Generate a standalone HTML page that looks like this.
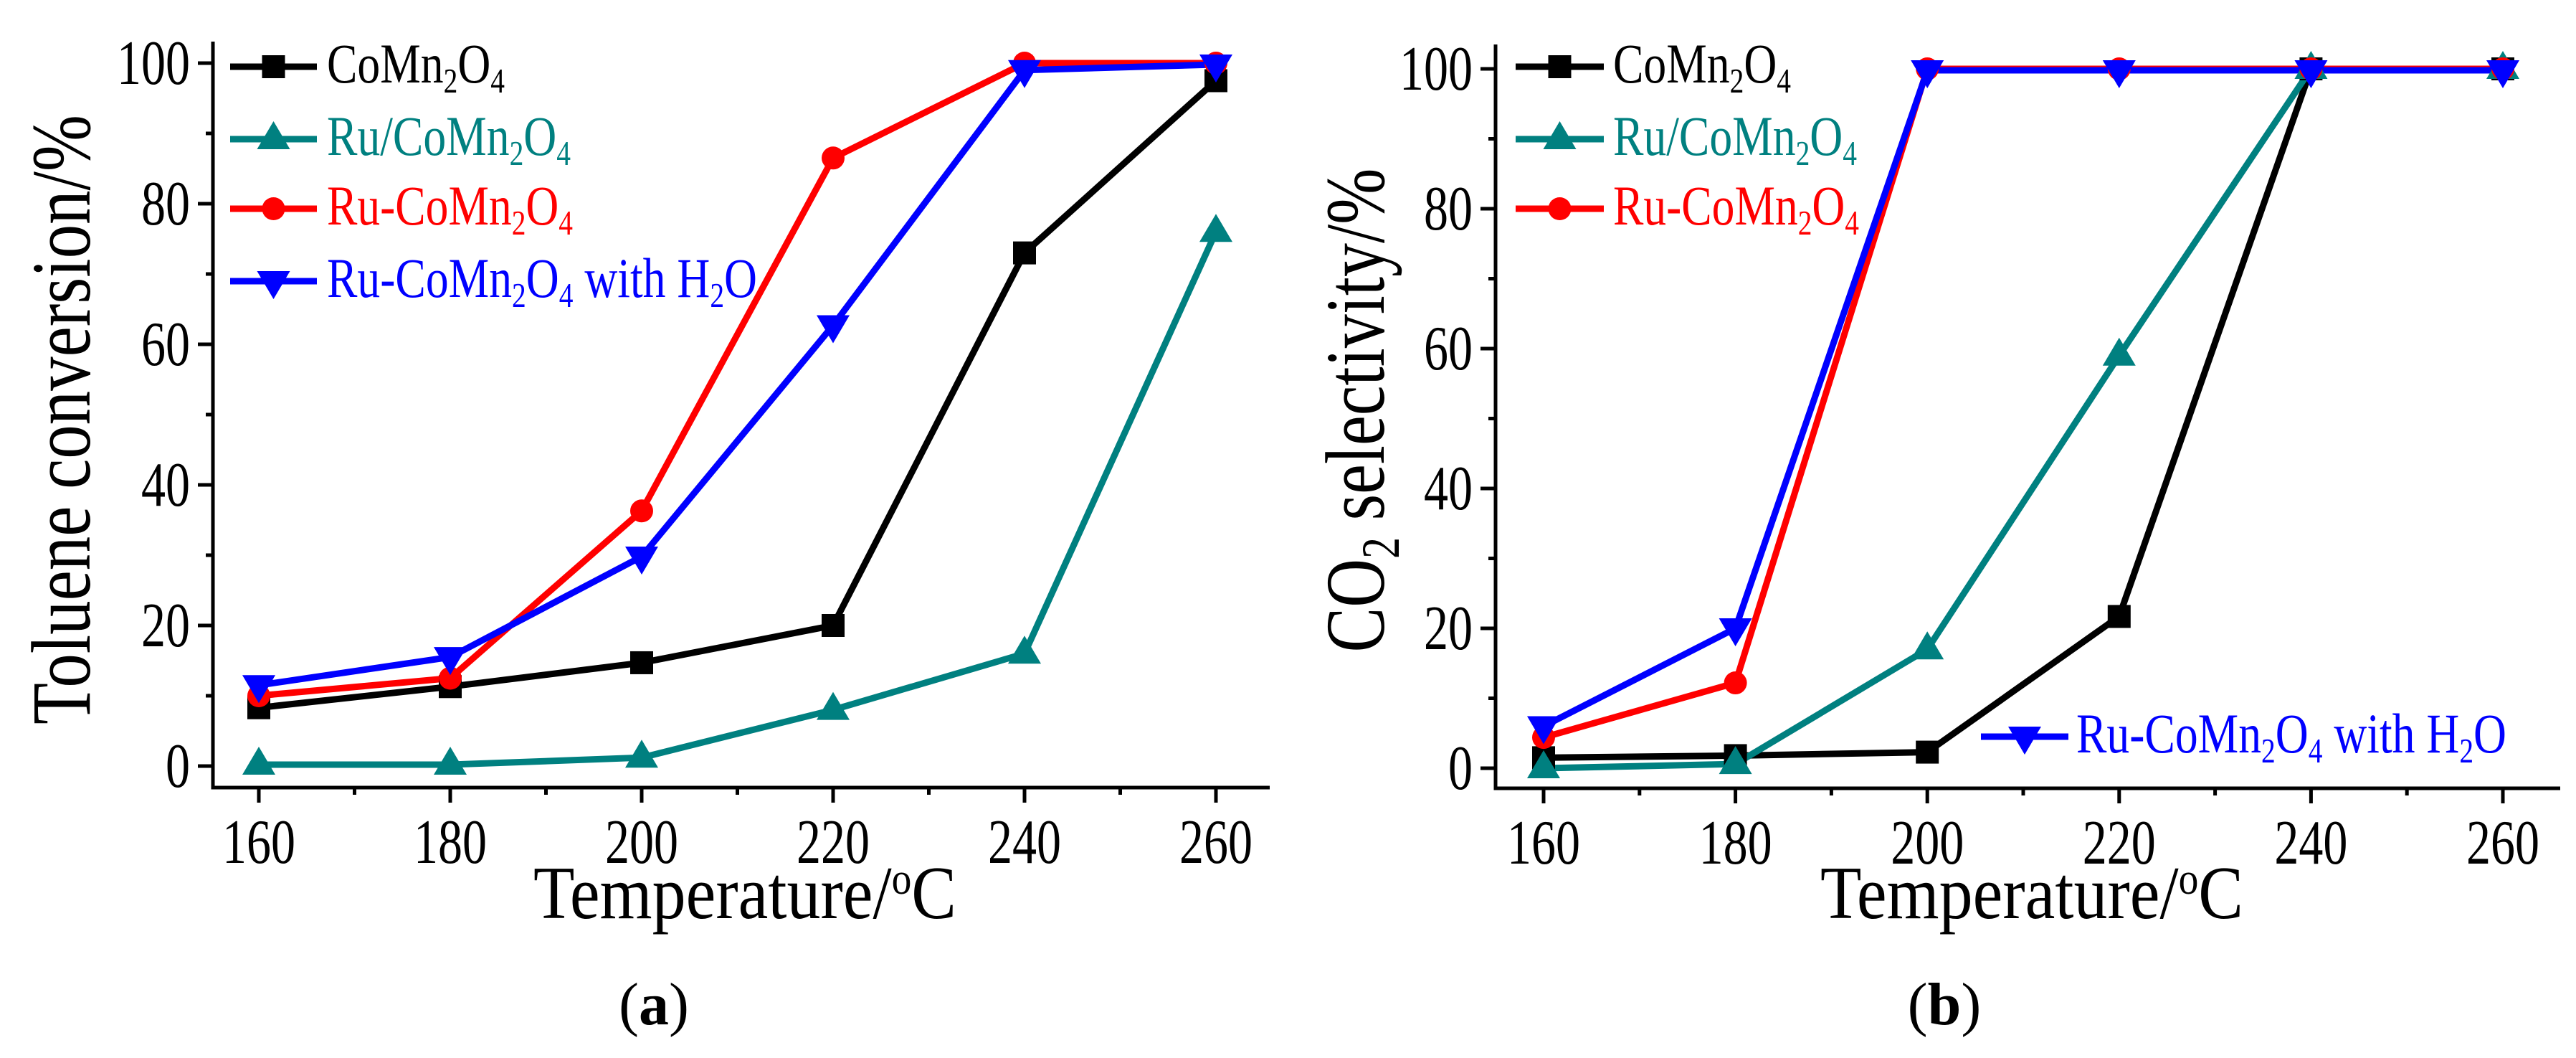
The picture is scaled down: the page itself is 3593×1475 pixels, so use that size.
<!DOCTYPE html>
<html><head><meta charset="utf-8"><style>
html,body{margin:0;padding:0;background:#fff;}
svg{display:block;font-family:"Liberation Serif",serif;}
</style></head><body>
<svg id="fig" width="3593" height="1475" viewBox="0 0 3593 1475" xmlns="http://www.w3.org/2000/svg"></svg>
<script>
const temps = [160, 180, 200, 220, 240, 260];
const xTicks = [160, 180, 200, 220, 240, 260];
const yTicks = [0, 20, 40, 60, 80, 100];
const seriesNames = ["CoMn2O4", "Ru/CoMn2O4", "Ru-CoMn2O4", "Ru-CoMn2O4 with H2O"];
const convCoMn = [8.3, 11.3, 14.7, 20, 73, 97.5];
const convRuOn = [0.2, 0.2, 1.2, 8, 16, 76];
const convRuIn = [10, 12.5, 36.3, 86.5, 100, 100];
const convH2O = [11.5, 15.5, 29.8, 62.7, 99, 99.8];
const selCoMn = [1.5, 1.8, 2.3, 21.7, 100, 100];
const selRuOn = [0, 0.6, 17, 59, 100, 100];
const selRuIn = [4.4, 12.2, 100, 100, 100, 100];
const selH2O = [6, 20, 99.8, 99.8, 99.8, 99.8];

const NS = "http://www.w3.org/2000/svg";
const svg = document.getElementById("fig");
function mk(tag, attrs, parent) {
  const e = document.createElementNS(NS, tag);
  for (const k in attrs) e.setAttribute(k, attrs[k]);
  (parent || svg).appendChild(e);
  return e;
}
const colors = ["#000000", "#008080", "#ff0000", "#0000ff"];
const markers = ["square", "up", "circle", "down"];

function marker(g, type, x, y, c) {
  let e;
  if (type === "square") e = mk("rect", {x: x - 16, y: y - 16, width: 32, height: 32, fill: c}, g);
  else if (type === "circle") e = mk("circle", {cx: x, cy: y, r: 16, fill: c}, g);
  else if (type === "up") e = mk("polygon", {points: `${x},${y - 25} ${x + 23},${y + 14} ${x - 23},${y + 14}`, fill: c}, g);
  else e = mk("polygon", {points: `${x},${y + 25} ${x + 23},${y - 14} ${x - 23},${y - 14}`, fill: c}, g);
  return e;
}

// legend label with subscripts: parts [[text, sub?], ...]
function label(g, x, y, parts, color, len, size) {
  const t = mk("text", {x: x, y: y, fill: color, "font-size": size, textLength: len, lengthAdjust: "spacingAndGlyphs"}, g);
  parts.forEach(p => {
    const ts = mk("tspan", {}, t);
    ts.textContent = p[0];
    if (p[1]) { ts.setAttribute("font-size", size * 0.62); ts.setAttribute("baseline-shift", "-30%"); }
  });
  return t;
}
const legendParts = [
  [["CoMn"], ["2", 1], ["O"], ["4", 1]],
  [["Ru/CoMn"], ["2", 1], ["O"], ["4", 1]],
  [["Ru-CoMn"], ["2", 1], ["O"], ["4", 1]],
  [["Ru-CoMn"], ["2", 1], ["O"], ["4", 1], [" with H"], ["2", 1], ["O"]]
];
const legendLens = [248, 340, 343, 600];

function panel(opt) {
  const g = mk("g", {});
  
  
  const X = v => opt.x0 + (v - 160) / 100 * opt.xw;
  const Y = v => opt.y0 - v / 100 * opt.yh;
  // axes
  const ax = mk("path", {d: `M${opt.axL},${opt.axTop} V${opt.axB} H${opt.axR}`, stroke: "#000", "stroke-width": 5, fill: "none"}, g);
  
  
  for (let v = 160; v <= 260; v += 10) {
    const major = v % 20 === 0;
    mk("line", {x1: X(v), x2: X(v), y1: opt.axB, y2: opt.axB + (major ? 21 : 10), stroke: "#000", "stroke-width": 5}, g);
  }
  for (let v = 0; v <= 100; v += 10) {
    const major = v % 20 === 0;
    mk("line", {x1: opt.axL, x2: opt.axL - (major ? 21 : 10), y1: Y(v), y2: Y(v), stroke: "#000", "stroke-width": 5}, g);
  }
  xTicks.forEach(v => {
    const t = mk("text", {x: X(v), y: opt.axB + 105, "text-anchor": "middle", "font-size": 88, textLength: 102, lengthAdjust: "spacingAndGlyphs"}, g);
    t.textContent = v;
    
    
  });
  yTicks.forEach(v => {
    const s = String(v);
    const t = mk("text", {x: opt.axL - 32, y: Y(v) + 29, "text-anchor": "end", "font-size": 88, textLength: 34 * s.length, lengthAdjust: "spacingAndGlyphs"}, g);
    t.textContent = s;
    
    
  });
  // series
  opt.data.forEach((arr, i) => {
    const sg = mk("g", {}, g);
    
    
    const pts = arr.map((v, j) => `${X(temps[j])},${Y(v)}`).join(" ");
    mk("polyline", {points: pts, stroke: colors[i], "stroke-width": 9, fill: "none", "stroke-linejoin": "miter"}, sg);
  });
  opt.data.forEach((arr, i) => {
    arr.forEach((v, j) => {
      const m = marker(g, markers[i], X(temps[j]), Y(v), colors[i]);
      
      
    });
  });
  // legend
  opt.legend.forEach((L, i) => {
    const lg = mk("g", {}, g);
    
    
    mk("line", {x1: L[0], x2: L[1], y1: L[3], y2: L[3], stroke: colors[i], "stroke-width": 9}, lg);
    marker(lg, markers[i], (L[0] + L[1]) / 2, L[3], colors[i]);
    label(lg, L[2], L[3] + 22, legendParts[i], colors[i], legendLens[i], 78);
  });
  // y title
  const yt = mk("text", {transform: `translate(${opt.ytX},${opt.ytY}) rotate(-90)`, "text-anchor": "middle", "font-size": 118, textLength: opt.ytLen, lengthAdjust: "spacingAndGlyphs"}, g);
  opt.ytParts.forEach(p => {
    const ts = mk("tspan", {}, yt);
    ts.textContent = p[0];
    if (p[1]) { ts.setAttribute("font-size", 75); ts.setAttribute("baseline-shift", "-28%"); }
  });
  
  
  // x title
  const xt = mk("text", {x: opt.xtX, y: 1280, "font-size": 105, textLength: 590, lengthAdjust: "spacingAndGlyphs"}, g);
  const a = mk("tspan", {}, xt); a.textContent = "Temperature/";
  const b = mk("tspan", {"font-size": 62, "baseline-shift": "55%"}, xt); b.textContent = "o";
  const c = mk("tspan", {}, xt); c.textContent = "C";
  
  
  // caption
  const cap = mk("text", {x: opt.capX, y: 1428, "text-anchor": "middle", "font-size": 84}, g);
  const c1 = mk("tspan", {}, cap); c1.textContent = "(";
  const c2 = mk("tspan", {"font-weight": "bold"}, cap); c2.textContent = opt.cap;
  const c3 = mk("tspan", {}, cap); c3.textContent = ")";
  
  
}

panel({
  name: "panel-a-toluene-conversion", x0: 361, xw: 1335, y0: 1068, yh: 980,
  axL: 297, axB: 1098, axR: 1771, axTop: 58,
  data: [convCoMn, convRuOn, convRuIn, convH2O],
  legend: [[321, 442, 456, 93], [321, 442, 456, 194], [321, 442, 456, 291], [321, 442, 456, 392]],
  ytX: 125, ytY: 585, ytLen: 850, ytParts: [["Toluene conversion/%"]],
  xtX: 744, capX: 912, cap: "a"
});
panel({
  name: "panel-b-co2-selectivity", x0: 2153, xw: 1338, y0: 1071, yh: 975,
  axL: 2086, axB: 1099, axR: 3571, axTop: 62,
  data: [selCoMn, selRuOn, selRuIn, selH2O],
  legend: [[2114, 2237, 2250, 93], [2114, 2237, 2250, 194], [2114, 2237, 2250, 291], [2763, 2885, 2896, 1027]],
  ytX: 1930, ytY: 572, ytLen: 675, ytParts: [["CO"], ["2", 1], [" selectivity/%"]],
  xtX: 2539, capX: 2712, cap: "b"
});
</script>
</body></html>
